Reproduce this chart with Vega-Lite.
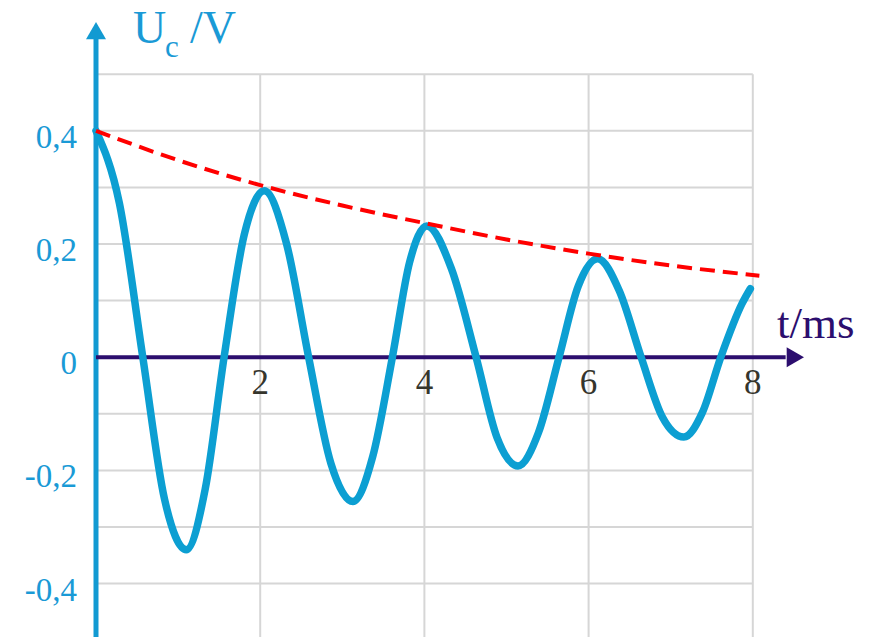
{
  "$schema": "https://vega.github.io/schema/vega-lite/v6.json",
  "width": 871,
  "height": 637,
  "padding": 0,
  "autosize": "none",
  "background": "white",
  "config": {"view": {"stroke": null}},
  "datasets": {
    "curve": [
      {"t": 0, "u": 0.4}, {"t": 0.285, "u": 0.272}, {"t": 0.57, "u": 0}, {"t": 0.835, "u": -0.251},
      {"t": 1.1, "u": -0.34}, {"t": 1.33, "u": -0.233}, {"t": 1.56, "u": 0}, {"t": 1.805, "u": 0.216},
      {"t": 2.05, "u": 0.294}, {"t": 2.32, "u": 0.201}, {"t": 2.59, "u": 0}, {"t": 2.86, "u": -0.187},
      {"t": 3.13, "u": -0.255}, {"t": 3.37, "u": -0.176}, {"t": 3.61, "u": 0}, {"t": 3.82, "u": 0.168},
      {"t": 4.03, "u": 0.232}, {"t": 4.33, "u": 0.156}, {"t": 4.63, "u": 0}, {"t": 4.885, "u": -0.142},
      {"t": 5.14, "u": -0.192}, {"t": 5.39, "u": -0.133}, {"t": 5.64, "u": 0}, {"t": 5.875, "u": 0.126},
      {"t": 6.11, "u": 0.174}, {"t": 6.375, "u": 0.117}, {"t": 6.64, "u": 0}, {"t": 6.9, "u": -0.106},
      {"t": 7.16, "u": -0.141}, {"t": 7.385, "u": -0.098}, {"t": 7.61, "u": 0}, {"t": 7.87, "u": 0.095},
      {"t": 7.97, "u": 0.121}
    ],
    "envelope": [
      {"t": 0, "u": 0.4}, {"t": 1, "u": 0.348}, {"t": 2, "u": 0.304}, {"t": 3, "u": 0.268},
      {"t": 4, "u": 0.237}, {"t": 5, "u": 0.208}, {"t": 6, "u": 0.183}, {"t": 7, "u": 0.162},
      {"t": 8.08, "u": 0.144}
    ],
    "hgrid": [
      {"v": 0.5}, {"v": 0.4}, {"v": 0.3}, {"v": 0.2}, {"v": 0.1},
      {"v": -0.1}, {"v": -0.2}, {"v": -0.3}, {"v": -0.4}
    ],
    "vgrid": [{"t": 2}, {"t": 4}, {"t": 6}, {"t": 8}],
    "ylabels": [
      {"v": 0.4, "label": "0,4"}, {"v": 0.2, "label": "0,2"}, {"v": 0, "label": "0"},
      {"v": -0.2, "label": "-0,2"}, {"v": -0.4, "label": "-0,4"}
    ],
    "xlabels": [
      {"t": 2, "label": "2"}, {"t": 4, "label": "4"}, {"t": 6, "label": "6"}, {"t": 8, "label": "8"}
    ]
  },
  "layer": [
    {
      "data": {"name": "hgrid"},
      "mark": {"type": "rule", "color": "#d6d6d6", "strokeWidth": 2},
      "encoding": {
        "y": {"field": "v", "type": "quantitative", "scale": {"domain": [-0.4943, 0.6311], "nice": false, "zero": false}, "axis": null},
        "x": {"datum": 0, "type": "quantitative", "scale": {"domain": [-1.1693, 9.4397], "nice": false, "zero": false}, "axis": null},
        "x2": {"datum": 8}
      }
    },
    {
      "data": {"name": "vgrid"},
      "mark": {"type": "rule", "color": "#d6d6d6", "strokeWidth": 2},
      "encoding": {
        "x": {"field": "t", "type": "quantitative"},
        "y": {"datum": 0.5, "type": "quantitative"},
        "y2": {"datum": -0.6}
      }
    },
    {
      "data": {"values": [{}]},
      "mark": {"type": "rule", "color": "#129ad2", "strokeWidth": 5},
      "encoding": {
        "x": {"datum": 0, "type": "quantitative"},
        "y": {"datum": -0.6, "type": "quantitative"},
        "y2": {"datum": 0.565}
      }
    },
    {
      "data": {"values": [{}]},
      "mark": {"type": "point", "shape": "triangle-up", "size": 400, "filled": true, "opacity": 1, "color": "#129ad2", "strokeWidth": 0},
      "encoding": {
        "x": {"datum": 0, "type": "quantitative"},
        "y": {"datum": 0.5769, "type": "quantitative"}
      }
    },
    {
      "data": {"values": [{}]},
      "mark": {"type": "rule", "color": "#2c0e6e", "strokeWidth": 4},
      "encoding": {
        "x": {"datum": 0, "type": "quantitative"},
        "x2": {"datum": 8.4},
        "y": {"datum": 0, "type": "quantitative"}
      }
    },
    {
      "data": {"values": [{}]},
      "mark": {"type": "point", "shape": "triangle-right", "size": 400, "filled": true, "opacity": 1, "color": "#2c0e6e", "strokeWidth": 0},
      "encoding": {
        "x": {"datum": 8.518, "type": "quantitative"},
        "y": {"datum": 0, "type": "quantitative"}
      }
    },
    {
      "data": {"name": "ylabels"},
      "mark": {"type": "text", "font": "Liberation Serif", "fontSize": 33, "color": "#1a9ad6", "align": "right", "baseline": "middle", "dy": 7},
      "encoding": {
        "x": {"datum": -0.2314, "type": "quantitative"},
        "y": {"field": "v", "type": "quantitative"},
        "text": {"field": "label"}
      }
    },
    {
      "data": {"name": "xlabels"},
      "mark": {"type": "text", "font": "Liberation Serif", "fontSize": 35, "color": "#35352c", "align": "center", "baseline": "middle", "dy": 26},
      "encoding": {
        "x": {"field": "t", "type": "quantitative"},
        "y": {"datum": 0, "type": "quantitative"},
        "text": {"field": "label"}
      }
    },
    {
      "data": {"values": [{}]},
      "mark": {"type": "text", "text": "U", "font": "Liberation Serif", "fontSize": 46, "color": "#1a9ad6", "align": "left", "baseline": "alphabetic"},
      "encoding": {
        "x": {"datum": 0.4507, "type": "quantitative"},
        "y": {"datum": 0.5551, "type": "quantitative"}
      }
    },
    {
      "data": {"values": [{}]},
      "mark": {"type": "text", "text": "c", "font": "Liberation Serif", "fontSize": 31, "color": "#1a9ad6", "align": "left", "baseline": "alphabetic"},
      "encoding": {
        "x": {"datum": 0.8404, "type": "quantitative"},
        "y": {"datum": 0.5304, "type": "quantitative"}
      }
    },
    {
      "data": {"values": [{}]},
      "mark": {"type": "text", "text": "/V", "font": "Liberation Serif", "fontSize": 46, "color": "#1a9ad6", "align": "left", "baseline": "alphabetic"},
      "encoding": {
        "x": {"datum": 1.145, "type": "quantitative"},
        "y": {"datum": 0.5551, "type": "quantitative"}
      }
    },
    {
      "data": {"values": [{}]},
      "mark": {"type": "text", "text": "t/ms", "font": "Liberation Serif", "fontSize": 45, "color": "#2c0e6e", "align": "left", "baseline": "alphabetic"},
      "encoding": {
        "x": {"datum": 8.295, "type": "quantitative"},
        "y": {"datum": 0.0339, "type": "quantitative"}
      }
    },
    {
      "data": {"name": "curve"},
      "mark": {"type": "line", "interpolate": "monotone", "color": "#0c9fd2", "strokeWidth": 7.5, "strokeCap": "round", "strokeJoin": "round"},
      "encoding": {
        "x": {"field": "t", "type": "quantitative"},
        "y": {"field": "u", "type": "quantitative"}
      }
    },
    {
      "data": {"name": "envelope"},
      "mark": {"type": "line", "interpolate": "monotone", "color": "#ff0000", "strokeWidth": 4, "strokeDash": [15, 8]},
      "encoding": {
        "x": {"field": "t", "type": "quantitative"},
        "y": {"field": "u", "type": "quantitative"}
      }
    }
  ]
}
